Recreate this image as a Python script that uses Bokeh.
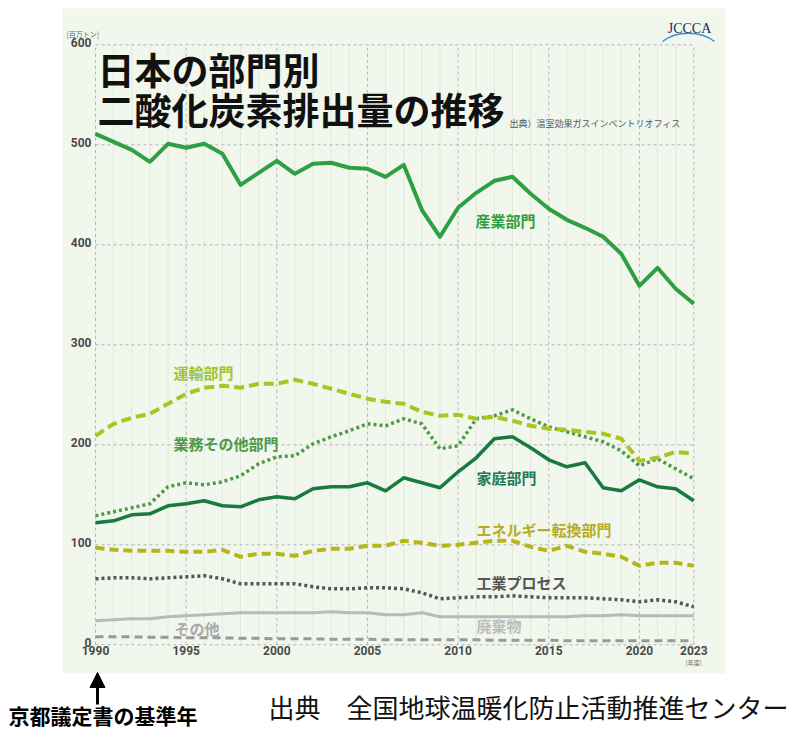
from bokeh.plotting import figure
from bokeh.models import Range1d, Arrow, NormalHead
from bokeh.core.properties import value
from bokeh.embed import file_html
from bokeh.resources import INLINE

# ---------------- data (million tonnes CO2, fiscal years 1990-2023) ----------------
years = list(range(1990, 2024))
industry = [511, 503, 495, 483, 501, 497, 501, 491, 460, 472,
            484, 471, 481, 482, 477, 476, 468, 480, 435, 408,
            437, 452, 464, 468, 451, 436, 425, 417, 408, 391,
            359, 377, 356, 341]
transport = [209, 221, 227, 231, 241, 251, 257, 259, 257, 261,
             261, 265, 261, 256, 251, 246, 243, 241, 233, 229,
             230, 226, 228, 224, 219, 216, 215, 213, 211, 206,
             184, 187, 193, 191]
commercial = [129, 133, 137, 141, 158, 162, 160, 163, 169, 181,
              188, 189, 201, 208, 214, 221, 219, 226, 221, 196,
              199, 226, 229, 235, 226, 218, 213, 208, 203, 194,
              179, 186, 176, 166]
residential = [122, 124, 130, 131, 139, 141, 144, 139, 138, 145,
               148, 146, 156, 158, 158, 162, 154, 167, 162, 157,
               173, 187, 206, 208, 197, 185, 178, 182, 157, 154,
               165, 158, 156, 144]
energy = [97, 95, 94, 94, 94, 93, 93, 95, 88, 91,
          91, 89, 94, 96, 96, 99, 99, 104, 102, 99,
          100, 102, 104, 104, 98, 94, 99, 93, 91, 88,
          79, 82, 82, 79]
process = [66, 67, 67, 66, 67, 68, 69, 66, 61, 61,
           61, 61, 58, 56, 56, 57, 57, 56, 52, 46,
           47, 48, 48, 49, 48, 47, 47, 47, 46, 45,
           43, 45, 43, 38]
waste = [24, 25, 26, 26, 28, 29, 30, 31, 32, 32,
         32, 32, 32, 33, 32, 32, 30, 30, 32, 28,
         28, 28, 28, 28, 28, 28, 28, 29, 29, 30,
         29, 29, 29, 29]
other = [8, 8, 8, 7.5, 7.5, 7, 7, 7, 6.5, 6.5,
         6, 6, 6, 5.5, 5.5, 5.5, 5, 5, 5, 5,
         5, 5, 4.5, 4.5, 4.5, 4.5, 4, 4, 4, 4,
         4, 4, 4, 4]

y_ticks = [0, 100, 200, 300, 400, 500, 600]
x_ticks = [1990, 1995, 2000, 2005, 2010, 2015, 2020, 2023]

labels = ["産業部門", "運輸部門", "業務その他部門", "家庭部門",
          "エネルギー転換部門", "工業プロセス", "その他", "廃棄物"]

# ---------------- layout helpers (pixel -> data) ----------------
W, H = 803, 731
X0, SX = 95.0, 18.13      # pixel of 1990, pixels per year
Y0 = 644.3                # pixel of value 0, 1 px per unit


def xd(px):
    return 1990 + (px - X0) / SX


def yd(py):
    return Y0 - py


JP = value("Noto Sans CJK JP")
NUM = value("Roboto")

p = figure(width=W, height=H,
           x_range=Range1d(xd(0), xd(W)), y_range=Range1d(yd(H), yd(0)),
           x_axis_type=None, y_axis_type=None,
           toolbar_location=None, output_backend="svg",
           min_border=0, outline_line_color=None,
           background_fill_color="white", border_fill_color="white")


def txt(px, py, s, size, color, align="left", bold=False, font=JP):
    p.text(x=[xd(px)], y=[yd(py)], text=[s], text_font=font,
           text_font_size=f"{size}px", text_color=color,
           text_align=align, text_baseline="middle",
           text_font_style="bold" if bold else "normal")


# panel background
p.quad(left=xd(62), right=xd(725), top=yd(8), bottom=yd(673),
       fill_color="#f1f7ec", line_color=None)

# grid
minor_years = [y for y in years if y not in x_ticks]
p.segment(x0=minor_years, y0=[y_ticks[0]] * len(minor_years),
          x1=minor_years, y1=[y_ticks[-1]] * len(minor_years),
          line_color="#e1e9dc", line_width=1)
p.segment(x0=x_ticks, y0=[y_ticks[0]] * len(x_ticks),
          x1=x_ticks, y1=[y_ticks[-1]] * len(x_ticks),
          line_color="#b4b4b4", line_width=1, line_dash="3 3")
p.segment(x0=[years[0]] * len(y_ticks), y0=y_ticks,
          x1=[years[-1]] * len(y_ticks), y1=y_ticks,
          line_color="#b4b4b4", line_width=1, line_dash="3 3")

# series
common = dict(line_join="round")
p.line(years, waste, line_color="#b9b9b9", line_width=3, **common)
p.line(years, other, line_color="#999999", line_width=3, line_dash="8 5", **common)
p.line(years, process, line_color="#555555", line_width=3.5, line_dash="3 3", **common)
p.line(years, energy, line_color="#b8b41c", line_width=4, line_dash="9 5", **common)
p.line(years, residential, line_color="#187a3c", line_width=3.5, **common)
p.line(years, commercial, line_color="#4f9a48", line_width=3.5, line_dash="3 3", **common)
p.line(years, transport, line_color="#a8c522", line_width=4, line_dash="10 5", **common)
p.line(years, industry, line_color="#2ea043", line_width=4, **common)

# tick labels
p.text(x=[xd(91)] * len(y_ticks), y=y_ticks, text=[str(v) for v in y_ticks],
       text_font=NUM, text_font_size="12px", text_font_style="bold",
       text_color="#4a4a4a", text_align="right", text_baseline="middle",
       y_offset=-2)
p.text(x=x_ticks, y=[yd(650)] * len(x_ticks), text=[str(v) for v in x_ticks],
       text_font=NUM, text_font_size="12px", text_font_style="bold",
       text_color="#4a4a4a", text_align="center", text_baseline="middle")
txt(X0 + 33 * SX, 662, "[年度]", 6, "#666666", align="center")
txt(66, 33, "[百万トン]", 7, "#666666")

# title and sources
txt(97, 68, "日本の部門別", 37, "#111111", bold=True)
txt(97, 108, "二酸化炭素排出量の推移", 37, "#111111", bold=True)
txt(509, 123, "出典）温室効果ガスインベントリオフィス", 9, "#555555")

# logo
p.bezier(x0=[xd(662)], y0=[yd(41)], x1=[xd(714)], y1=[yd(41)],
         cx0=[xd(676)], cy0=[yd(30)], cx1=[xd(700)], cy1=[yd(30)],
         line_color="#3b8fd0", line_width=1.5)
txt(689, 28, "JCCCA", 14, "#1d2d5e", align="center", font=value("Liberation Serif"))

# series labels
label_pos = [(475, 220, "#2e9e3e"), (173, 372, "#a3c232"), (173, 443, "#4c9a48"),
             (476, 477, "#237a57"), (476, 529, "#b5ad1f"), (476, 582, "#555555"),
             (174, 628, "#a8a8a8"), (476, 625, "#bdbdbd")]
for (px, py, col), s in zip(label_pos, labels):
    txt(px, py, s, 15, col, bold=True)

# below the panel
p.add_layout(Arrow(end=NormalHead(size=15, fill_color="black", line_color="black"),
                   x_start=xd(97), y_start=yd(704), x_end=xd(97), y_end=yd(672),
                   line_width=3, line_color="black"))
txt(8, 714, "京都議定書の基準年", 21, "#000000", bold=True)
txt(268, 706, "出典　全国地球温暖化防止活動推進センター", 26, "#111111")

open("out.html", "w").write(file_html(p, INLINE))
